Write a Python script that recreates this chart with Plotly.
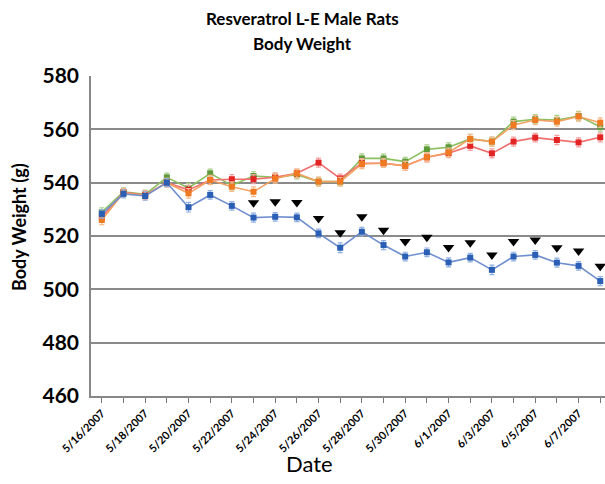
import plotly.graph_objects as go

dates = ["5/16/2007","5/17/2007","5/18/2007","5/19/2007","5/20/2007","5/21/2007",
         "5/22/2007","5/23/2007","5/24/2007","5/25/2007","5/26/2007","5/27/2007",
         "5/28/2007","5/29/2007","5/30/2007","5/31/2007","6/1/2007","6/2/2007",
         "6/3/2007","6/4/2007","6/5/2007","6/6/2007","6/7/2007","6/8/2007"]

blue   = [528.3, 535.8, 535.0, 540.0, 530.8, 535.4, 531.3, 526.9, 527.2, 527.0, 521.0, 515.6,
          521.6, 516.6, 512.3, 513.9, 510.1, 511.9, 507.3, 512.3, 512.9, 510.0, 508.8, 503.1]
green  = [529.0, 536.6, 535.6, 542.0, 538.0, 543.5, 539.0, 542.5, 542.0, 543.0, 540.4, 540.4,
          549.1, 549.1, 547.9, 552.5, 553.3, 556.4, 555.4, 562.9, 563.8, 563.5, 565.0, 561.0]
red    = [527.0, 536.4, 535.4, 540.0, 537.3, 541.0, 541.3, 541.3, 542.0, 543.5, 547.5, 541.6,
          547.3, 547.3, 546.3, 549.5, 551.0, 553.8, 551.0, 555.4, 556.9, 556.0, 555.1, 557.0]
orange = [526.0, 536.2, 535.2, 540.0, 536.0, 541.0, 538.5, 536.6, 541.5, 543.5, 540.4, 540.4,
          547.0, 547.3, 546.3, 549.5, 551.3, 556.4, 555.4, 561.6, 563.5, 562.9, 564.8, 562.5]

blue_err   = [1.6, 1.5, 1.6, 1.5, 1.8, 1.6, 1.6, 1.7, 1.6, 1.6, 1.6, 1.8,
              1.6, 1.7, 1.6, 1.6, 1.7, 1.6, 1.8, 1.6, 1.6, 1.7, 1.6, 1.7]
green_err  = [1.6, 1.5, 1.6, 1.6, 1.7, 1.6, 1.7, 1.6, 1.6, 1.6, 1.6, 1.6,
              1.7, 1.6, 1.6, 1.7, 1.6, 1.7, 1.7, 1.7, 1.7, 1.7, 1.7, 1.7]
red_err    = [1.6, 1.5, 1.6, 1.6, 1.7, 1.6, 1.7, 1.7, 1.6, 1.6, 1.7, 1.6,
              1.7, 1.6, 1.7, 1.7, 1.6, 1.7, 1.7, 1.7, 1.6, 1.7, 1.7, 1.7]
orange_err = [1.7, 1.5, 1.6, 1.6, 1.8, 1.7, 1.8, 1.8, 1.7, 1.6, 1.7, 1.6,
              1.7, 1.6, 1.7, 1.7, 1.7, 1.7, 1.7, 1.7, 1.7, 1.7, 1.7, 1.8]

# days with significant difference (marked with a black down-triangle)
significant = [False]*7 + [True]*17

tick_labels = [d if i % 2 == 0 else "" for i, d in enumerate(dates)]

x = list(range(len(dates)))

series = [
    ("green", green, green_err, "#8cbf5e", "#5f9a3a", "#a8d08a"),
    ("red", red, red_err, "#f07070", "#e32424", "#f5a0a0"),
    ("orange", orange, orange_err, "#f4a060", "#f07a22", "#f8bc8c"),
    ("blue", blue, blue_err, "#6f8fd0", "#2a5fb5", "#8fb0e0"),
]

fig = go.Figure()
for name, vals, err, lc, mc, ec in series:
    fig.add_trace(go.Scatter(
        x=x, y=vals, mode="lines+markers", name=name,
        line=dict(color=lc, width=1.6),
        marker=dict(symbol="square", size=6, color=mc),
        error_y=dict(type="data", array=err, visible=True, color=ec, thickness=1.2, width=2.5),
        showlegend=False, cliponaxis=False,
    ))

sig_x = [xi for xi, s in zip(x, significant) if s]
sig_y = [v + 5.6 for v, s in zip(blue, significant) if s]
fig.add_trace(go.Scatter(
    x=sig_x, y=sig_y, mode="markers",
    marker=dict(symbol="triangle-down", size=10, color="black"),
    showlegend=False, cliponaxis=False,
))

L, R, T, B = 91, 0, 76, 88
W, H = 605, 484
pw, ph = W - L - R, H - T - B

def px_x(p):
    return (p - L) / pw

def px_y(p):
    return (H - B - p) / ph

fig.update_layout(
    width=W, height=H,
    margin=dict(l=L, r=R, t=T, b=B, autoexpand=False),
    paper_bgcolor="white", plot_bgcolor="white",
    font=dict(family="Lato, Open Sans, sans-serif", color="black"),
    xaxis=dict(
        range=[-0.5, 23.22], automargin=False,
        tickmode="array", tickvals=x, ticktext=tick_labels,
        tickangle=-45, tickfont=dict(size=11, family="Lato", weight="bold"),
        ticks="outside", ticklen=5, tickcolor="#777", tickwidth=1,
        showline=True, linecolor="#888", linewidth=1.5,
        showgrid=False, zeroline=False,
    ),
    yaxis=dict(
        range=[460, 580], tickvals=[460, 480, 500, 520, 540, 560, 580], automargin=False,
        tickfont=dict(size=21, family="Lato", weight="bold"),
        showline=True, linecolor="#888", linewidth=1.5,
        showgrid=True, gridcolor="#8a8a8a", gridwidth=1.5,
        zeroline=False, ticks="", ticklabelstandoff=6,
    ),
    annotations=[
        dict(text="<b>Resveratrol L-E Male Rats</b>", x=px_x(302), y=px_y(18),
             xref="paper", yref="paper", showarrow=False,
             font=dict(size=17, family="Lato"), xanchor="center", yanchor="middle"),
        dict(text="<b>Body Weight</b>", x=px_x(302), y=px_y(44),
             xref="paper", yref="paper", showarrow=False,
             font=dict(size=17, family="Lato"), xanchor="center", yanchor="middle"),
        dict(text="<b>Body Weight (g)</b>", x=px_x(19), y=px_y(227),
             xref="paper", yref="paper", showarrow=False, textangle=-90,
             font=dict(size=18, family="Lato"), xanchor="center", yanchor="middle"),
        dict(text="Date", x=px_x(309), y=px_y(463),
             xref="paper", yref="paper", showarrow=False,
             font=dict(size=22, family="Lato"), xanchor="center", yanchor="middle"),
    ],
)

fig.write_html("out.html", config={"displayModeBar": False},
               post_script="document.body.style.margin='0';")
